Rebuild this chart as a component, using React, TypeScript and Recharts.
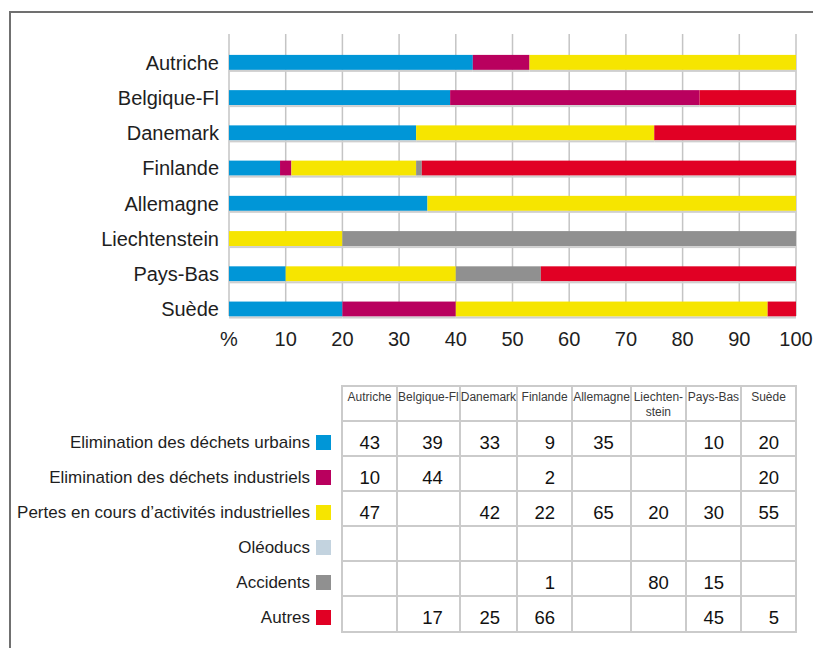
import React from "react";
import { Bar, BarChart, CartesianGrid, XAxis, YAxis } from "recharts";

// Countries in chart order (top to bottom) and table order (left to right).
const COUNTRIES = [
  "Autriche",
  "Belgique-Fl",
  "Danemark",
  "Finlande",
  "Allemagne",
  "Liechtenstein",
  "Pays-Bas",
  "Suède",
];
const TABLE_HEADERS = [
  "Autriche",
  "Belgique-Fl",
  "Danemark",
  "Finlande",
  "Allemagne",
  "Liechten-\nstein",
  "Pays-Bas",
  "Suède",
];

// Share of each source, in %.
const URBAINS = [43, 39, 33, 9, 35, null, 10, 20];
const INDUSTRIELS = [10, 44, null, 2, null, null, null, 20];
const PERTES = [47, null, 42, 22, 65, 20, 30, 55];
const OLEODUCS = [null, null, null, null, null, null, null, null];
const ACCIDENTS = [null, null, null, 1, null, 80, 15, null];
const AUTRES = [null, 17, 25, 66, null, null, 45, 5];

const X_TICKS = [0, 10, 20, 30, 40, 50, 60, 70, 80, 90, 100];

const SERIES = [
  { key: "urbains", label: "Elimination des déchets urbains", color: "#0096D7", values: URBAINS },
  { key: "industriels", label: "Elimination des déchets industriels", color: "#B9005E", values: INDUSTRIELS },
  { key: "pertes", label: "Pertes en cours d’activités industrielles", color: "#F6E500", values: PERTES },
  { key: "oleoducs", label: "Oléoducs", color: "#C3D3DF", values: OLEODUCS },
  { key: "accidents", label: "Accidents", color: "#909090", values: ACCIDENTS },
  { key: "autres", label: "Autres", color: "#E10024", values: AUTRES },
];

const FONT = '"Liberation Sans", Arial, sans-serif';
const GRID = "#c4c4c4";
const CELL_LINE = "#cbcbcb";

const rows = COUNTRIES.map((country, i) => {
  const row: Record<string, string | number | null> = { country };
  for (const s of SERIES) row[s.key] = s.values[i];
  return row;
});

// Bar segment with the thin grey shadow under it.
function ShadowBar(props: any) {
  const { x, y, width, height, fill } = props;
  if (!width || width <= 0) return <g />;
  return (
    <g>
      <rect x={x} y={y} width={width} height={height} fill={fill} />
      <rect x={x} y={y + height} width={width} height={2} fill="#cfcfcf" />
    </g>
  );
}

const ROW_H = 35.1;

export default function App() {
  return (
    <div
      style={{
        position: "absolute",
        left: 0,
        top: 0,
        width: 813,
        height: 648,
        background: "#fff",
        overflow: "hidden",
        fontFamily: FONT,
      }}
    >
      {/* outer frame, only top and left edges visible */}
      <div
        style={{
          position: "absolute",
          left: 9,
          top: 11,
          width: 820,
          height: 660,
          borderLeft: "2px solid #707070",
          borderTop: "2px solid #707070",
        }}
      />

      <div style={{ position: "absolute", left: 0, top: 0 }}>
        <BarChart
          width={813}
          height={360}
          data={rows}
          layout="vertical"
          barSize={15}
          margin={{ top: 34, right: 17, bottom: 14, left: 0 }}
        >
          <CartesianGrid horizontal={false} stroke={GRID} strokeWidth={1.5} />
          <XAxis
            type="number"
            domain={[0, 100]}
            ticks={X_TICKS}
            interval={0}
            height={30}
            axisLine={false}
            tickLine={false}
            tickMargin={10}
            tickFormatter={(v: number) => (v === 0 ? "%" : String(v))}
            tick={{ fontSize: 20, fill: "#1e1e1e", fontFamily: FONT }}
          />
          <XAxis
            xAxisId="top"
            orientation="top"
            type="number"
            domain={[0, 100]}
            height={0}
            tick={false}
            tickLine={false}
            axisLine={{ stroke: GRID, strokeWidth: 1.5 }}
          />
          <YAxis
            type="category"
            dataKey="country"
            width={229}
            interval={0}
            axisLine={false}
            tickLine={false}
            tickMargin={4}
            padding={{ top: 10.9, bottom: -10.8 }}
            tick={{ fontSize: 20, fill: "#1e1e1e", fontFamily: FONT }}
          />
          {SERIES.map((s) => (
            <Bar
              key={s.key}
              dataKey={s.key}
              stackId="a"
              fill={s.color}
              shape={ShadowBar}
              isAnimationActive={false}
            />
          ))}
        </BarChart>
      </div>

      {/* legend labels for the table rows */}
      <div style={{ position: "absolute", left: 0, top: 421, width: 331 }}>
        {SERIES.map((s) => (
          <div
            key={s.key}
            style={{ height: ROW_H, display: "flex", justifyContent: "flex-end", alignItems: "flex-start" }}
          >
            <span style={{ fontSize: 17, lineHeight: "20px", paddingTop: 12, color: "#1e1e1e", whiteSpace: "nowrap" }}>
              {s.label}
            </span>
            <span
              style={{ width: 15, height: 15, marginTop: 14, marginLeft: 6, background: s.color, flex: "none" }}
            />
          </div>
        ))}
      </div>

      {/* data table */}
      <div
        style={{
          position: "absolute",
          left: 341,
          top: 385,
          width: 456,
          display: "grid",
          gridTemplateColumns: "repeat(8, 1fr)",
          gridTemplateRows: `35px repeat(6, ${ROW_H}px)`,
          borderTop: `2px solid ${CELL_LINE}`,
          borderLeft: `2px solid ${CELL_LINE}`,
          boxSizing: "border-box",
        }}
      >
        {TABLE_HEADERS.map((h) => (
          <div
            key={h}
            style={{
              boxSizing: "border-box",
              borderRight: `2px solid ${CELL_LINE}`,
              borderBottom: `2px solid ${CELL_LINE}`,
              fontSize: 12,
              lineHeight: "15px",
              paddingTop: 3,
              textAlign: "center",
              whiteSpace: "pre",
              color: "#3a3a3a",
              overflow: "visible",
              display: "flex",
              justifyContent: "center",
            }}
          >
            {h}
          </div>
        ))}
        {SERIES.map((s) =>
          s.values.map((v, i) => (
            <div
              key={s.key + i}
              style={{
                boxSizing: "border-box",
                borderRight: `2px solid ${CELL_LINE}`,
                borderBottom: `2px solid ${CELL_LINE}`,
                fontSize: 18.5,
                lineHeight: "21px",
                paddingTop: 10,
                paddingRight: 16,
                textAlign: "right",
                color: "#111",
              }}
            >
              {v ?? ""}
            </div>
          ))
        )}
      </div>
    </div>
  );
}
